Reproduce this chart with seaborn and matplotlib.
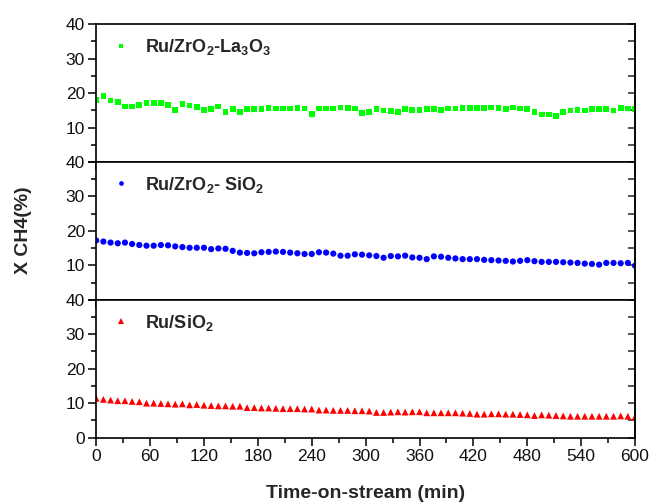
import numpy as np
import pandas as pd
import matplotlib
matplotlib.use("Agg")
import matplotlib.pyplot as plt
import seaborn as sns
from matplotlib.ticker import MultipleLocator

# ---- data ----
time_min = np.arange(0, 601, 8)

x_la = [18.0, 19.2, 17.8, 17.4, 16.1, 16.1, 16.5, 17.2, 17.2, 17.2,
        16.6, 15.1, 16.8, 16.4, 15.9, 15.1, 15.3, 16.1, 14.6, 15.4,
        14.4, 15.4, 15.4, 15.4, 15.6, 15.5, 15.5, 15.5, 15.6, 15.5,
        14.0, 15.5, 15.5, 15.5, 15.8, 15.7, 15.5,
        14.3, 14.5, 15.4, 14.9, 14.8, 14.6, 15.4, 15.1, 15.1, 15.4,
        15.4, 15.1, 15.5, 15.5, 15.6, 15.6, 15.6, 15.6, 15.8, 15.7,
        15.4, 15.8, 15.5, 15.4, 14.4, 13.8, 13.8, 13.4, 14.5, 14.9,
        15.1, 14.9, 15.4, 15.4, 15.4, 14.9, 15.7, 15.5, 15.4]

x_si = [17.2, 16.9, 16.6, 16.4, 16.6, 16.2, 15.9, 15.7, 15.7, 15.9,
        15.8, 15.5, 15.3, 15.1, 15.1, 15.1, 14.7, 14.9, 14.8, 14.2,
        13.7, 13.6, 13.5, 13.8, 13.9, 14.0, 13.9, 13.7, 13.5, 13.3,
        13.3, 13.8, 13.7, 13.4, 12.8, 12.8, 13.2,
        13.1, 12.9, 12.7, 12.2, 12.7, 12.6, 12.8, 12.3, 12.2, 11.8,
        12.6, 12.5, 12.2, 12.0, 11.8, 11.8, 11.8, 11.6, 11.5, 11.4,
        11.3, 11.1, 11.3, 11.5, 11.2, 11.0, 11.0, 11.0, 10.9, 10.8,
        10.7, 10.5, 10.4, 10.2, 10.7, 10.7, 10.6, 10.7, 9.9]

x_ru = [11.4, 11.1, 10.9, 10.7, 10.7, 10.5, 10.4, 10.0, 10.0, 9.9,
        9.8, 9.7, 9.8, 9.5, 9.6, 9.4, 9.3, 9.2, 9.2, 9.1,
        9.1, 8.7, 8.7, 8.6, 8.6, 8.5, 8.4, 8.4, 8.4, 8.3,
        8.3, 8.0, 8.0, 7.9, 7.9, 7.9, 7.8,
        7.8, 7.7, 7.3, 7.3, 7.4, 7.5, 7.4, 7.5, 7.5, 7.2,
        7.2, 7.2, 7.2, 7.2, 7.1, 7.0, 6.8, 6.8, 6.9, 6.9,
        6.8, 6.8, 6.7, 6.6, 6.4, 6.6, 6.5, 6.4, 6.3, 6.2,
        6.2, 6.2, 6.2, 6.2, 6.2, 6.2, 6.3, 6.2, 6.0]

labels = [r"Ru/ZrO$_\mathbf{2}$-La$_\mathbf{3}$O$_\mathbf{3}$",
          r"Ru/ZrO$_\mathbf{2}$- SiO$_\mathbf{2}$",
          r"Ru/SiO$_\mathbf{2}$"]
series = [x_la, x_si, x_ru]
colors = ["#00FF00", "#0000FF", "#FF0000"]
markers = ["s", "o", "^"]
msizes = [17, 20, 24]

xticks = [0, 60, 120, 180, 240, 300, 360, 420, 480, 540, 600]
yticks = [0, 10, 20, 30, 40]

# ---- style ----
sns.set_style("white")
plt.rcParams["font.family"] = ["Liberation Sans", "DejaVu Sans"]
plt.rcParams["mathtext.fontset"] = "custom"
plt.rcParams["mathtext.rm"] = "Liberation Sans"
plt.rcParams["mathtext.bf"] = "Liberation Sans:bold"
plt.rcParams["mathtext.it"] = "Liberation Sans:italic"

fig, axes = plt.subplots(3, 1, figsize=(6.5, 5.03), dpi=100, sharex=True)
fig.subplots_adjust(left=0.148, right=0.977, top=0.952, bottom=0.130, hspace=0)

for i, ax in enumerate(axes):
    df = pd.DataFrame({"t": time_min, "x": series[i], "cat": labels[i]})
    sns.scatterplot(data=df, x="t", y="x", hue="cat", palette=[colors[i]],
                    marker=markers[i], s=msizes[i], linewidth=0, ax=ax)
    ax.set_xlim(0, 600)
    ax.set_ylim(0, 40)
    ax.set_xticks(xticks)
    ax.xaxis.set_minor_locator(MultipleLocator(30))
    ax.set_yticks(yticks)
    ax.yaxis.set_minor_locator(MultipleLocator(5))
    if i < 2:
        ax.set_yticklabels(["", "10", "20", "30", "40"])
    ax.set_xlabel("")
    ax.set_ylabel("")
    for s in ax.spines.values():
        s.set_color("black")
        s.set_linewidth(1.2)
    ax.tick_params(axis="both", which="major", direction="out", length=6,
                   width=1.1, color="black", labelsize=12.5, pad=2,
                   left=True, bottom=True, labelcolor="#111111")
    ax.tick_params(axis="both", which="minor", direction="out", length=3.5,
                   width=1.1, color="black", left=True, bottom=True)
    ax.tick_params(axis="x", labelbottom=(i == 2))
    sec = ax.secondary_yaxis("right")
    sec.set_yticks([0, 5, 10, 15, 20, 25, 30, 35, 40])
    sec.tick_params(direction="in", length=5, width=1.1, labelright=False)
    sec.spines["right"].set_linewidth(1.2)
    ax.legend(loc="upper left", bbox_to_anchor=(0.012, 0.96),
              frameon=False, handlelength=1.2, handletextpad=0.75,
              borderaxespad=0, markerscale=0.75,
              prop={"weight": "bold", "size": 13})

axes[2].set_xlabel("Time-on-stream (min)", fontsize=14, fontweight="bold",
                   labelpad=15)
fig.text(0.036, 0.543, "X CH4(%)", rotation=90, fontsize=14,
         fontweight="bold", ha="center", va="center")

fig.savefig("out.png", dpi=100, facecolor="white")
